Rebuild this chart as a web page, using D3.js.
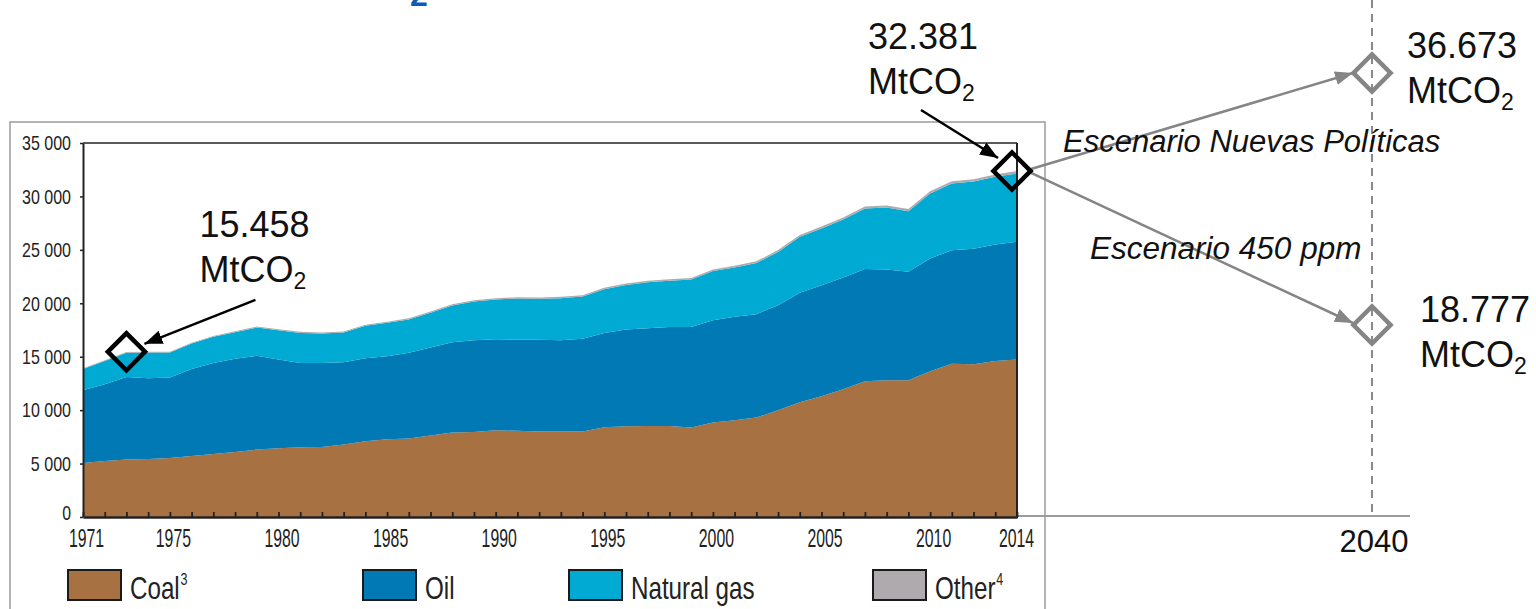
<!DOCTYPE html>
<html>
<head>
<meta charset="utf-8">
<script src="https://cdn.jsdelivr.net/npm/d3@7"></script>
<style>
  body { margin: 0; background: #fff; }
  svg { display: block; font-family: "Liberation Sans", Arial, sans-serif; }
  .narrow { font-family: "Liberation Sans Narrow", "Liberation Sans", Arial, sans-serif; }
</style>
</head>
<body>
<svg id="chart" width="1536" height="609"></svg>
<script>
// CO2 emissions by fuel, MtCO2
const years = [1971, 1972, 1973, 1974, 1975, 1976, 1977, 1978, 1979, 1980,
  1981, 1982, 1983, 1984, 1985, 1986, 1987, 1988, 1989, 1990,
  1991, 1992, 1993, 1994, 1995, 1996, 1997, 1998, 1999, 2000,
  2001, 2002, 2003, 2004, 2005, 2006, 2007, 2008, 2009, 2010,
  2011, 2012, 2013, 2014];
const coal = [5060, 5250, 5370, 5430, 5530, 5710, 5900, 6090, 6310, 6430,
  6530, 6560, 6780, 7090, 7280, 7340, 7620, 7900, 7960, 8120,
  8060, 7990, 8000, 8010, 8400, 8490, 8520, 8520, 8370, 8840,
  9050, 9300, 9990, 10740, 11300, 11960, 12710, 12800, 12800, 13640,
  14330, 14300, 14610, 14730];
const oil = [6800, 7180, 7740, 7560, 7520, 8150, 8520, 8710, 8770, 8300,
  7890, 7860, 7710, 7770, 7770, 8020, 8240, 8460, 8590, 8520,
  8520, 8590, 8550, 8660, 8830, 9050, 9150, 9270, 9420, 9580,
  9680, 9680, 9830, 10240, 10390, 10450, 10510, 10360, 10140, 10550,
  10640, 10800, 10890, 11020];
const gas = [2000, 2180, 2250, 2400, 2340, 2370, 2440, 2500, 2650, 2750,
  2810, 2750, 2780, 3030, 3120, 3120, 3250, 3430, 3620, 3710,
  3870, 3840, 3930, 3960, 4090, 4180, 4310, 4310, 4430, 4590,
  4620, 4780, 4990, 5240, 5310, 5430, 5650, 5800, 5680, 6090,
  6240, 6300, 6340, 6400];
const other = [60, 65, 70, 70, 75, 80, 80, 85, 90, 90,
  95, 95, 100, 100, 105, 110, 110, 115, 120, 120,
  125, 125, 130, 130, 135, 140, 140, 145, 150, 155,
  160, 165, 170, 175, 180, 185, 190, 195, 195, 205,
  210, 215, 220, 230];

const keys = ['coal', 'oil', 'gas', 'other'];
const legendLabels = ['Coal', 'Oil', 'Natural gas', 'Other'];
const legendNotes = ['3', '', '', '4'];
const xTickYears = [1971, 1975, 1980, 1985, 1990, 1995, 2000, 2005, 2010, 2014];
const yTicks = [0, 5000, 10000, 15000, 20000, 25000, 30000, 35000];

// highlighted totals and 2040 scenarios
const markYears = [1973, 2014];
const markLabels = ['15.458', '32.381'];
const markValues = [15458, 32381];
const scenarioYear = 2040;
const scenarioNames = ['Escenario Nuevas Políticas', 'Escenario 450 ppm'];
const scenarioLabels = ['36.673', '18.777'];
const scenarioValues = [36673, 18777];

const colors = { coal: '#a87141', oil: '#0079b4', gas: '#00aad3', other: '#aeaaae' };

const svg = d3.select('#chart');

const x = d3.scaleLinear().domain([1971, 2014]).range([83, 1017]);
const y = d3.scaleLinear().domain([0, 35000]).range([517, 143]);
// projection panel on the right
const xr = d3.scaleLinear().domain([2014, 2040]).range([1012, 1372]);
const yr = d3.scaleLinear().domain([18777, 36673]).range([325, 73]);

// arrow heads
const defs = svg.append('defs');
[['arrowBlack', '#000'], ['arrowGray', '#858585']].forEach(([id, c]) => {
  defs.append('marker')
    .attr('id', id)
    .attr('markerUnits', 'userSpaceOnUse')
    .attr('markerWidth', 20).attr('markerHeight', 16)
    .attr('refX', 18).attr('refY', 7)
    .attr('orient', 'auto')
    .append('path')
    .attr('d', 'M0,0 L18,7 L0,14 Z')
    .attr('fill', c);
});

// cut off title fragment at the top
svg.append('text')
  .attr('x', 410).attr('y', 6)
  .attr('font-size', 32).attr('font-weight', 'bold')
  .attr('fill', '#0b5cb5')
  .text('2');

// gray outer frame
svg.append('rect')
  .attr('x', 10).attr('y', 122)
  .attr('width', 1035).attr('height', 520)
  .attr('fill', 'none')
  .attr('stroke', '#9c9c9c').attr('stroke-width', 1.5);

// dashed 2040 line and gray base line
svg.append('line')
  .attr('x1', xr(scenarioYear)).attr('x2', xr(scenarioYear))
  .attr('y1', 0).attr('y2', 516)
  .attr('stroke', '#8a8a8a').attr('stroke-width', 2)
  .attr('stroke-dasharray', '8,6');
svg.append('line')
  .attr('x1', x(2014)).attr('x2', 1410)
  .attr('y1', 516).attr('y2', 516)
  .attr('stroke', '#9c9c9c').attr('stroke-width', 2);
svg.append('text')
  .attr('x', xr(scenarioYear) + 2).attr('y', 552)
  .attr('text-anchor', 'middle')
  .attr('font-size', 31)
  .attr('fill', '#111')
  .text(scenarioYear);

// stacked areas
const table = years.map((yr_, i) => ({ year: yr_, coal: coal[i], oil: oil[i], gas: gas[i], other: other[i] }));
const series = d3.stack().keys(keys)(table);
const area = d3.area()
  .x(d => x(d.data.year))
  .y0(d => y(d[0]))
  .y1(d => y(d[1]));

svg.append('g')
  .selectAll('path')
  .data(series)
  .join('path')
  .attr('d', area)
  .attr('fill', d => colors[d.key]);

// frame top and right
svg.append('line').attr('x1', 83).attr('x2', 1017).attr('y1', 143).attr('y2', 143)
  .attr('stroke', '#222').attr('stroke-width', 1.5);
svg.append('line').attr('x1', 1017).attr('x2', 1017).attr('y1', 143).attr('y2', 518)
  .attr('stroke', '#222').attr('stroke-width', 2);

// axes
const fmt = d3.formatLocale({ decimal: ',', thousands: '\u2009', grouping: [3], currency: ['', ''] }).format(',');

const xAxis = svg.append('g')
  .attr('transform', 'translate(0,517)')
  .call(d3.axisBottom(x)
    .tickValues(years)
    .tickSizeInner(-5)
    .tickSizeOuter(0)
    .tickPadding(12)
    .tickFormat(d => xTickYears.includes(d) ? d : ''));
xAxis.select('.domain').attr('stroke', '#222').attr('stroke-width', 2.5);
xAxis.selectAll('.tick line').attr('stroke', '#222').attr('stroke-width', 1.8);
xAxis.selectAll('.tick text')
  .attr('class', 'narrow')
  .attr('font-size', 25)
  .attr('fill', '#222')
  .attr('dx', d => d === 2014 ? -1 : 3);

const yAxis = svg.append('g')
  .attr('transform', 'translate(83,0)')
  .call(d3.axisLeft(y)
    .tickValues(yTicks)
    .tickSizeInner(3)
    .tickSizeOuter(0)
    .tickPadding(9)
    .tickFormat(d => fmt(d).replace('\u2009', ' ')));
yAxis.select('.domain').attr('stroke', '#222').attr('stroke-width', 2);
yAxis.selectAll('.tick line').attr('stroke', '#222').attr('stroke-width', 1.5);
yAxis.selectAll('.tick text')
  .attr('class', 'narrow')
  .attr('font-size', 21)
  .attr('fill', '#222')
  .attr('dy', d => d === 0 ? '0.1em' : '0.32em');

// squeeze the condensed tick labels to their widths in the picture
function squeeze(sel, digitW, spaceW) {
  sel.each(function () {
    const t = this.textContent;
    if (!t) return;
    const w = [...t].reduce((s, c) => s + (c === ' ' ? spaceW : digitW), 0);
    d3.select(this).attr('textLength', w).attr('lengthAdjust', 'spacingAndGlyphs');
  });
}
squeeze(xAxis.selectAll('.tick text'), 8.8, 4);
squeeze(yAxis.selectAll('.tick text'), 8.8, 5);

// legend (condensed type, squeezed horizontally)
const legendX = [68, 363, 569, 873];
const legend = svg.append('g');
keys.forEach((k, i) => {
  const g = legend.append('g').attr('transform', `translate(${legendX[i]},570)`);
  g.append('rect')
    .attr('width', 53).attr('height', 30)
    .attr('fill', colors[k])
    .attr('stroke', '#1a1a1a').attr('stroke-width', 2);
  const t = g.append('text')
    .attr('transform', 'translate(62,29) scale(0.78,1)')
    .attr('font-size', 31)
    .attr('fill', '#222');
  t.append('tspan').text(legendLabels[i]);
  if (legendNotes[i]) {
    t.append('tspan')
      .attr('dx', 1).attr('dy', -14)
      .attr('font-size', 16)
      .text(legendNotes[i]);
  }
});

// value label with MtCO2 underneath
function valueLabel(xp, yp, num) {
  const g = svg.append('g').attr('font-size', 36).attr('fill', '#111');
  g.append('text').attr('x', xp).attr('y', yp).text(num);
  const t = g.append('text').attr('x', xp).attr('y', yp + 45);
  t.append('tspan').text('MtCO');
  t.append('tspan').attr('font-size', 23).attr('dy', 7).text('2');
}

function diamond(cx, cy, color) {
  svg.append('path')
    .attr('d', d3.symbol().type(d3.symbolSquare).size(690)())
    .attr('transform', `translate(${cx},${cy}) rotate(45)`)
    .attr('fill', 'none')
    .attr('stroke', color)
    .attr('stroke-width', 4.5);
}

// scenario arrows from the 2014 point
const startX = xr(2014) + 19;
const startY = y(markValues[1]);
scenarioValues.forEach((v, i) => {
  svg.append('line')
    .attr('x1', startX).attr('y1', startY + (i === 0 ? -2 : 2))
    .attr('x2', xr(scenarioYear) - 19).attr('y2', yr(v) + (i === 0 ? 0 : -2))
    .attr('stroke', '#858585').attr('stroke-width', 2.5)
    .attr('marker-end', 'url(#arrowGray)');
  diamond(xr(scenarioYear), yr(v), '#858585');
});
valueLabel(xr(scenarioYear) + 35, yr(scenarioValues[0]) - 15, scenarioLabels[0]);
valueLabel(xr(scenarioYear) + 48, yr(scenarioValues[1]) - 3, scenarioLabels[1]);

svg.append('text')
  .attr('x', 1063).attr('y', 152)
  .attr('font-size', 31).attr('font-style', 'italic').attr('fill', '#111')
  .text(scenarioNames[0]);
svg.append('text')
  .attr('x', 1090).attr('y', 259)
  .attr('font-size', 31.5).attr('font-style', 'italic').attr('fill', '#111')
  .text(scenarioNames[1]);

// historical markers
const px0 = x(markYears[0]), py0 = y(markValues[0]);
const px1 = xr(markYears[1]), py1 = y(markValues[1]);
diamond(px0, py0, '#000');
diamond(px1, py1, '#000');

svg.append('line')
  .attr('x1', px0 + 129).attr('y1', py0 - 52)
  .attr('x2', px0 + 18).attr('y2', py0 - 8)
  .attr('stroke', '#000').attr('stroke-width', 2.5)
  .attr('marker-end', 'url(#arrowBlack)');
valueLabel(px0 + 73, py0 - 115, markLabels[0]);

svg.append('line')
  .attr('x1', px1 - 91).attr('y1', py1 - 61)
  .attr('x2', px1 - 14).attr('y2', py1 - 13)
  .attr('stroke', '#000').attr('stroke-width', 2.5)
  .attr('marker-end', 'url(#arrowBlack)');
valueLabel(px1 - 144, py1 - 122, markLabels[1]);
</script>
</body>
</html>
